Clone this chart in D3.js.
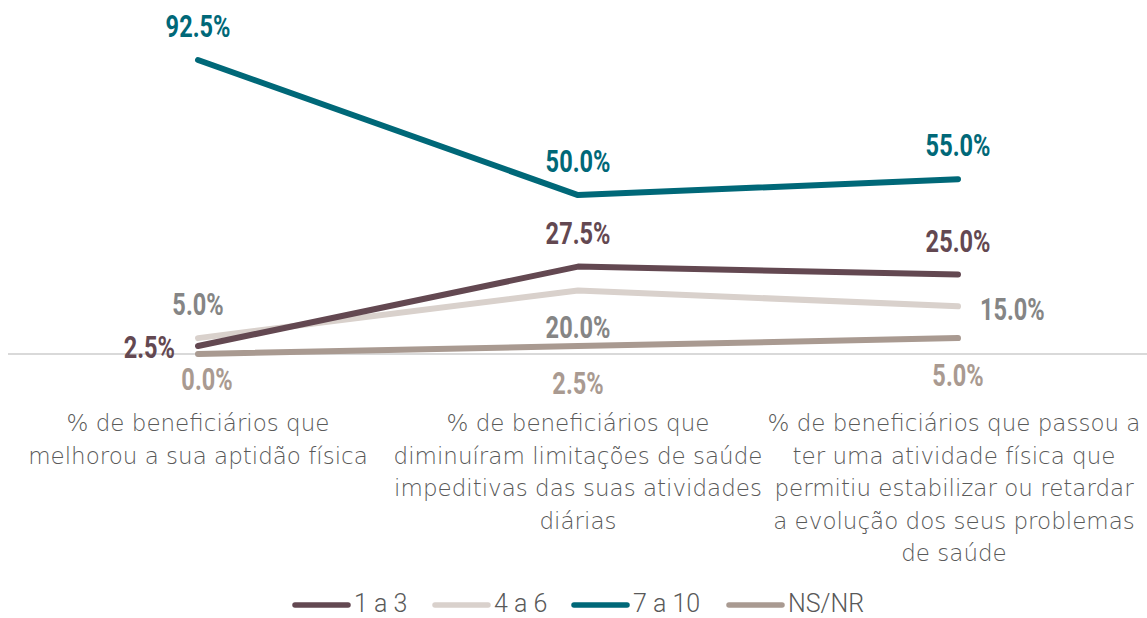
<!DOCTYPE html>
<html>
<head>
<meta charset="utf-8">
<script src="https://cdn.jsdelivr.net/npm/d3@7"></script>
<style>
  body { margin: 0; background: #fff; }
  .cat { font-family: "DejaVu Sans", sans-serif; font-weight: 200; font-size: 23px; fill: #595959; }
  .val { font-family: Roboto, sans-serif; font-weight: bold; font-size: 31px; }
  .leg { font-family: Roboto, sans-serif; font-weight: 300; font-size: 25px; fill: #595959; }
</style>
</head>
<body>
<div class="svg-target"></div>
<script>
const w = 1147;
const h = 618;

// data
const categories = [
    ['% de beneficiários que', 'melhorou a sua aptidão física'],
    ['% de beneficiários que', 'diminuíram limitações de saúde', 'impeditivas das suas atividades', 'diárias'],
    ['% de beneficiários que passou a', 'ter uma atividade física que', 'permitiu estabilizar ou retardar', 'a evolução dos seus problemas', 'de saúde']
];
const seriesNames = ['1 a 3', '4 a 6', '7 a 10', 'NS/NR'];
const vals1a3 = [2.5, 27.5, 25.0];
const vals4a6 = [5.0, 20.0, 15.0];
const vals7a10 = [92.5, 50.0, 55.0];
const valsNSNR = [0.0, 2.5, 5.0];

const lineColors = ['#634851', '#d9d1cc', '#006878', '#a99a91'];
const labelColors = ['#634851', '#858585', '#006878', '#a99a91'];
// where each value label sits relative to its point
const placement = [
    ['left', 'above', 'above'],
    ['above', 'below', 'right'],
    ['above', 'above', 'above'],
    ['belowNear', 'below', 'below']
];

const series = [vals1a3, vals4a6, vals7a10, valsNSNR].map((v, i) => ({
    name: seriesNames[i], values: v, color: lineColors[i], labelColor: labelColors[i], place: placement[i]
}));

const svg = d3.select('.svg-target')
    .append('svg')
    .attr('width', w)
    .attr('height', h);

const xScale = d3.scaleBand()
    .domain(d3.range(categories.length))
    .range([8, 1148]);

const yScale = d3.scaleLinear()
    .domain([0, 92.5])
    .range([354, 60]);

const cx = i => xScale(i) + xScale.bandwidth() / 2;

// baseline
svg.append('line')
    .attr('x1', 8).attr('x2', w)
    .attr('y1', yScale(0)).attr('y2', yScale(0))
    .attr('stroke', '#d9d9d9')
    .attr('stroke-width', 2);

// category labels
const catG = svg.append('g');
categories.forEach((lines, i) => {
    const x = cx(i) - (i === 2 ? 4 : 0);
    const t = catG.append('text')
        .attr('class', 'cat')
        .attr('text-anchor', 'middle')
        .attr('x', x)
        .attr('y', 431);
    lines.forEach((l, j) => {
        t.append('tspan').attr('x', x).attr('dy', j === 0 ? 0 : 32.5).text(l);
    });
});

// lines (draw order: NS/NR, 4 a 6, 1 a 3, 7 a 10)
const line = d3.line()
    .x((d, i) => cx(i))
    .y(d => yScale(d));

[3, 1, 0, 2].forEach(k => {
    const s = series[k];
    svg.append('path')
        .datum(s.values)
        .attr('d', line)
        .attr('fill', 'none')
        .attr('stroke', s.color)
        .attr('stroke-width', 6)
        .attr('stroke-linecap', 'round')
        .attr('stroke-linejoin', 'round');
});

// value labels (condensed look via horizontal scale)
const fmt = d => d3.format('.1f')(d) + '%';
series.forEach(s => {
    s.values.forEach((v, i) => {
        let x = cx(i), y = yScale(v), anchor = 'middle';
        const p = s.place[i];
        if (p === 'above') { y -= 23; }
        else if (p === 'below') { y += 48; }
        else if (p === 'belowNear') { x += 9; y += 36; }
        else if (p === 'left') { x -= 23; y += 12; anchor = 'end'; }
        else if (p === 'right') { x += 22; y += 14; anchor = 'start'; }
        svg.append('text')
            .attr('class', 'val')
            .attr('transform', `translate(${x}, ${y}) scale(0.76, 1)`)
            .attr('text-anchor', anchor)
            .attr('fill', s.labelColor)
            .text(fmt(v));
    });
});

// legend
const legX = [293, 433, 572, 727];
const leg = svg.append('g');
series.forEach((s, i) => {
    leg.append('line')
        .attr('x1', legX[i] + 2).attr('x2', legX[i] + 55)
        .attr('y1', 605).attr('y2', 605)
        .attr('stroke', s.color)
        .attr('stroke-width', 5.5)
        .attr('stroke-linecap', 'round');
    leg.append('text')
        .attr('class', 'leg')
        .attr('x', legX[i] + 61)
        .attr('y', 612)
        .text(s.name);
});
</script>
</body>
</html>
